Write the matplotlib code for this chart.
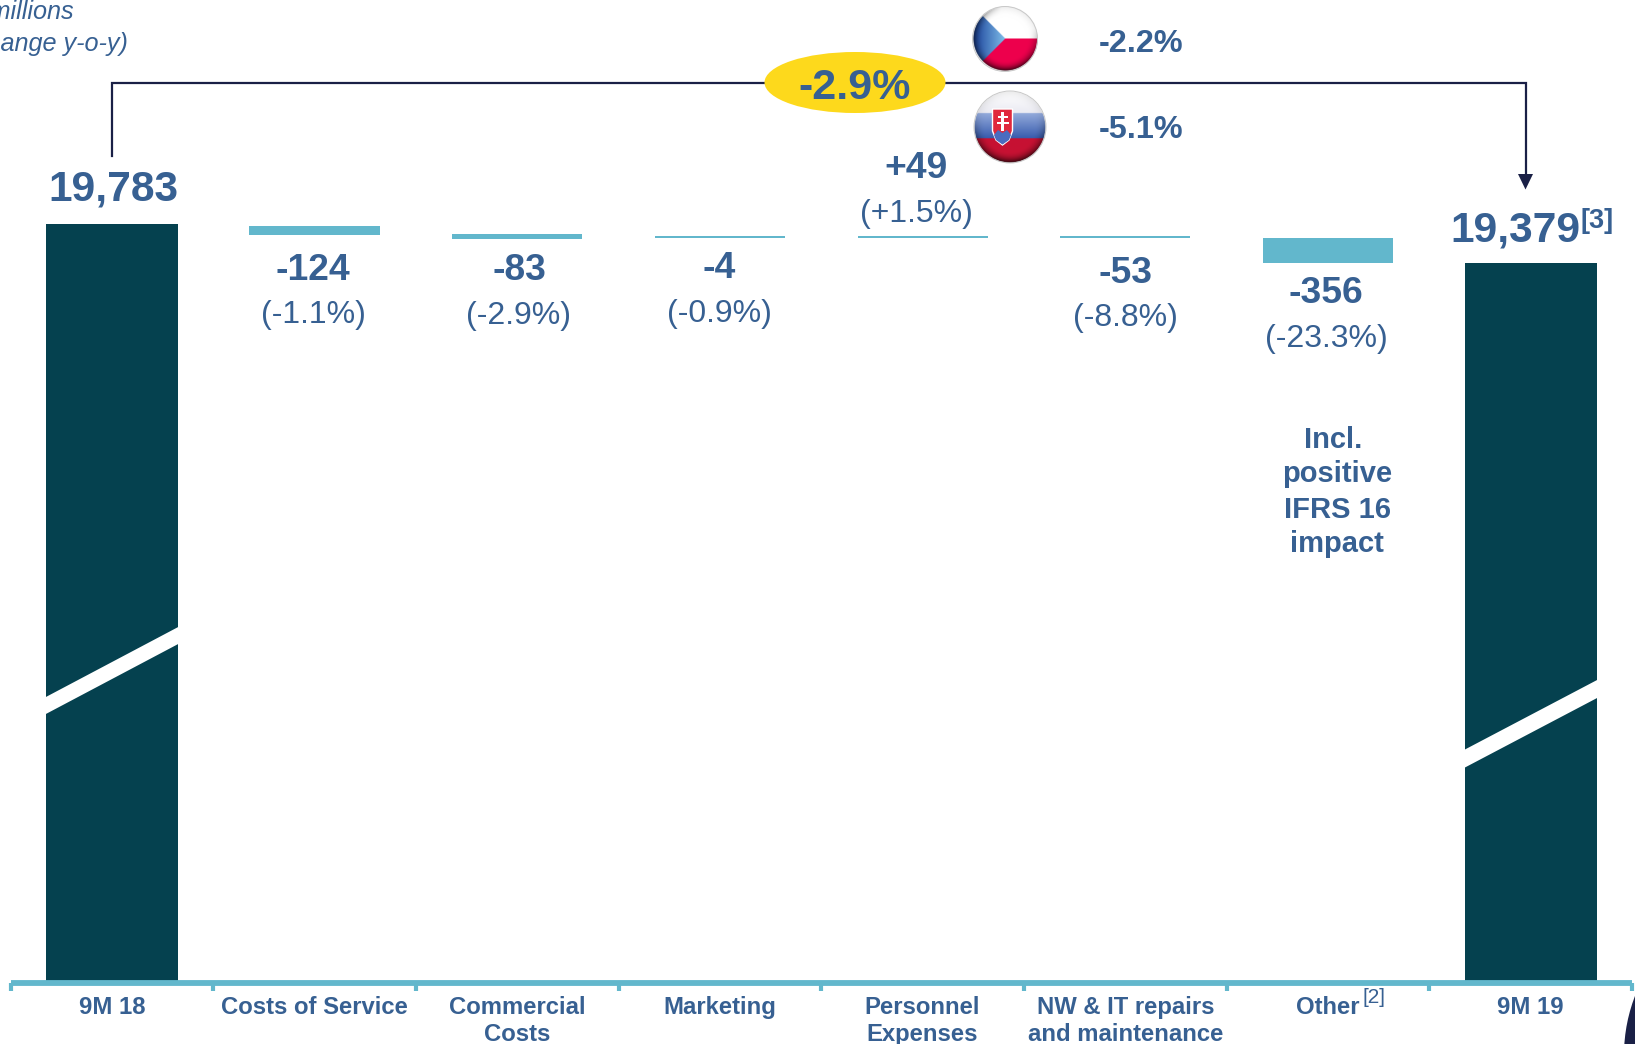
import numpy as np
import matplotlib
matplotlib.use("Agg")
import matplotlib.pyplot as plt
from matplotlib.patches import Ellipse, Polygon, Circle, Rectangle

plt.rcParams['font.family'] = ['Liberation Sans', 'DejaVu Sans']

# dane
categories = ["9M 18", "Costs of Service", "Commercial\nCosts", "Marketing", "Personnel\nExpenses",
              "NW & IT repairs\nand maintenance", "Other", "9M 19"]
total_pos = [0, 7]
total_drawn = [19783, 19220]
total_labels = ["19,783", "19,379"]
step_pos = [1, 2, 3, 4, 5, 6]
step_top = [19755, 19637, 19607, 19607, 19607, 19574]
step_low = [19629, 19568, 19572, 19572, 19572, 19219]
step_labels = ["-124", "-83", "-4", "+49", "-53", "-356"]
step_pct = ["(-1.1%)", "(-2.9%)", "(-0.9%)", "(+1.5%)", "(-8.8%)", "(-23.3%)"]
total_change = "-2.9%"
cz_change = "-2.2%"
sk_change = "-5.1%"

DARK = '#05414F'
TEAL = '#62B7CC'
BLUE = '#376092'
NAVY = '#1A2046'
YELLOW = '#FDD91C'

W, H = 1635, 1044
fig = plt.figure(figsize=(W / 100, H / 100), dpi=100)

# wykres
ax_top, ax_bottom, ax_left, ax_right = 100, 983, 10.5, 1632
ax = fig.add_axes([ax_left / W, 1 - ax_bottom / H, (ax_right - ax_left) / W, (ax_bottom - ax_top) / H])
ax.set_xlim(-0.5, 7.5)
ax.set_ylim(8670, 21600)
ax.patch.set_alpha(0)
ax.bar(total_pos, total_drawn, width=0.652, color=DARK)
ax.bar(step_pos, np.array(step_top) - np.array(step_low), bottom=step_low, width=0.642, color=TEAL)

for s in ['top', 'left', 'right']:
    ax.spines[s].set_visible(False)
ax.spines['bottom'].set_color(TEAL)
ax.spines['bottom'].set_linewidth(4.2)
ax.spines['bottom'].set_capstyle('butt')
ax.set_yticks([])
ax.set_xticks(np.arange(-0.5, 8, 1))
ax.set_xticklabels([])
ax.tick_params(axis='x', which='major', color=TEAL, width=3, length=6)
ax.set_xticks(range(8), minor=True)
ax.set_xticklabels(categories, minor=True, fontsize=17.2, fontweight='bold', color=BLUE, linespacing=1.22)
ax.tick_params(axis='x', which='minor', length=0, pad=9.5)

# warstwa na opisy, wspolrzedne w pikselach
ov = fig.add_axes([0, 0, 1, 1])
ov.set_xlim(0, W)
ov.set_ylim(H, 0)
ov.axis('off')
ov.patch.set_alpha(0)

# przerwy w slupkach
ov.add_patch(Polygon([(44, 698), (182, 625), (182, 642), (44, 715)], color='white', lw=0))
ov.add_patch(Polygon([(1464, 750), (1599, 679), (1599, 697), (1464, 768)], color='white', lw=0))


def txt(x, y, s, size, bold=True, ha='center', **kw):
    ov.text(x, y, s, fontsize=size, fontweight='bold' if bold else 'normal', color=BLUE,
            ha=ha, va='baseline', **kw)


# wartosci
txt(113, 200.7, total_labels[0], 30.6)
txt(1450, 241.7, total_labels[1], 30.6, ha='left')
txt(1580, 228, "[3]", 19.5, ha='left')

label_x = [313, 519, 719.5, 916, 1125, 1326]
label_y = [280, 280, 278, 178, 283, 303]
pct_y = [323, 324, 322, 222, 326, 347]
for i in range(6):
    txt(label_x[i], label_y[i], step_labels[i], 26.8)
    txt(label_x[i], pct_y[i], step_pct[i], 23, bold=False)

txt(1333, 447.7, "Incl.", 21)
txt(1337, 482, "positive", 21)
txt(1337, 517.7, "IFRS 16", 21)
txt(1337, 552, "impact", 21)

txt(1363, 1003, "[2]", 15, bold=False, ha='left')

txt(73.5, 19, "CZK millions", 18.2, bold=False, ha='right', style='italic')
txt(127.5, 51, "(% change y-o-y)", 18.2, bold=False, ha='right', style='italic')

# klamra z gory
ov.plot([112, 112, 1525.5, 1525.5], [156, 83, 83, 176], color=NAVY, lw=1.6, solid_joinstyle='miter')
ov.add_patch(Polygon([(1518, 174), (1533, 174), (1525.5, 189.5)], color=NAVY, lw=0))
ov.add_patch(Ellipse((855, 82.5), 181, 61, color=YELLOW, lw=0, zorder=3))
ov.text(855, 99, total_change, fontsize=31, fontweight='bold', color=BLUE, ha='center', va='baseline', zorder=4)

txt(1140.7, 51.7, cz_change, 23.3)
txt(1140.7, 137.7, sk_change, 23.3)


# flagi
def flag(cx, cy, r, kind):
    n = 160
    yy, xx = np.mgrid[-1:1:n * 1j, -1:1:n * 1j]
    d = np.sqrt(xx ** 2 + yy ** 2)
    img = np.zeros((n, n, 4))
    img[..., 3] = 1
    if kind == 'cz':
        img[..., :3] = np.array([0.93, 0.0, 0.30])
        img[..., :3][yy < 0] = [1, 1, 1]
        tri = xx + 1 < (1 - np.abs(yy))
        t = np.clip(xx + 1, 0, 1)[..., None]
        blue = (1 - t) * np.array([0.1, 0.25, 0.6]) + t * np.array([0.5, 0.75, 0.92])
        img[..., :3][tri] = blue[tri]
    else:
        img[..., :3] = np.array([0.78, 0.07, 0.2])
        t = np.clip((yy + 0.39) / 0.70, 0, 1)[..., None]
        blue = (1 - t) * np.array([0.58, 0.67, 0.86]) + t * np.array([0.22, 0.36, 0.68])
        band = yy < 0.31
        img[..., :3][band] = blue[band]
        top = yy < -0.39
        fade = np.clip((yy + 1) / 0.61, 0, 1)[..., None]
        col = (1 - fade) * np.array([1, 1, 1]) + fade * np.array([0.92, 0.92, 0.95])
        img[..., :3][top] = col[top]
    # cien przy krawedzi, mocniejszy na dole
    strength = 0.08 + 0.72 * np.clip((yy + 0.3) / 1.3, 0, 1)
    if kind == 'cz':
        strength = np.maximum(strength, 0.6 * np.clip(-xx, 0, 1))
    shade = 1 - strength * np.clip((d - 0.68) / 0.32, 0, 1) ** 2
    img[..., :3] = img[..., :3] * shade[..., None]
    img[..., 3] = np.clip((1 - d) * n / 2, 0, 1)
    ov.imshow(img, extent=[cx - r, cx + r, cy + r, cy - r], zorder=3, interpolation='bilinear')
    ov.add_patch(Circle((cx, cy), r, fill=False, ec='#C8C8C8', lw=0.7, zorder=4))


flag(1005, 39, 32.5, 'cz')
flag(1010, 127, 36, 'sk')
# tarcza i krzyz
ov.add_patch(Polygon([(992.5, 109), (1012.5, 109), (1012.5, 131), (1009, 140), (1002.5, 145), (996, 140), (992.5, 131)],
                     fc='#E0283C', ec='white', lw=1, zorder=5))
ov.add_patch(Polygon([(994, 135), (998, 130), (1002.5, 133), (1007, 130), (1011, 135), (1009, 140), (1002.5, 144.5),
                      (996, 140)], fc='#4A6CC0', lw=0, zorder=5))
ov.add_patch(Rectangle((1001, 112), 3, 19, fc='white', lw=0, zorder=6))
ov.add_patch(Rectangle((997.5, 116), 10, 2.4, fc='white', lw=0, zorder=6))
ov.add_patch(Rectangle((996.5, 122), 12, 2.4, fc='white', lw=0, zorder=6))

# resztka kola w rogu
ov.add_patch(Circle((1788, 1055), 164, fc=NAVY, lw=0, zorder=3))

ov.set_xlim(0, W)
ov.set_ylim(H, 0)
ov.set_aspect('auto')

fig.savefig("out.png", dpi=100)
